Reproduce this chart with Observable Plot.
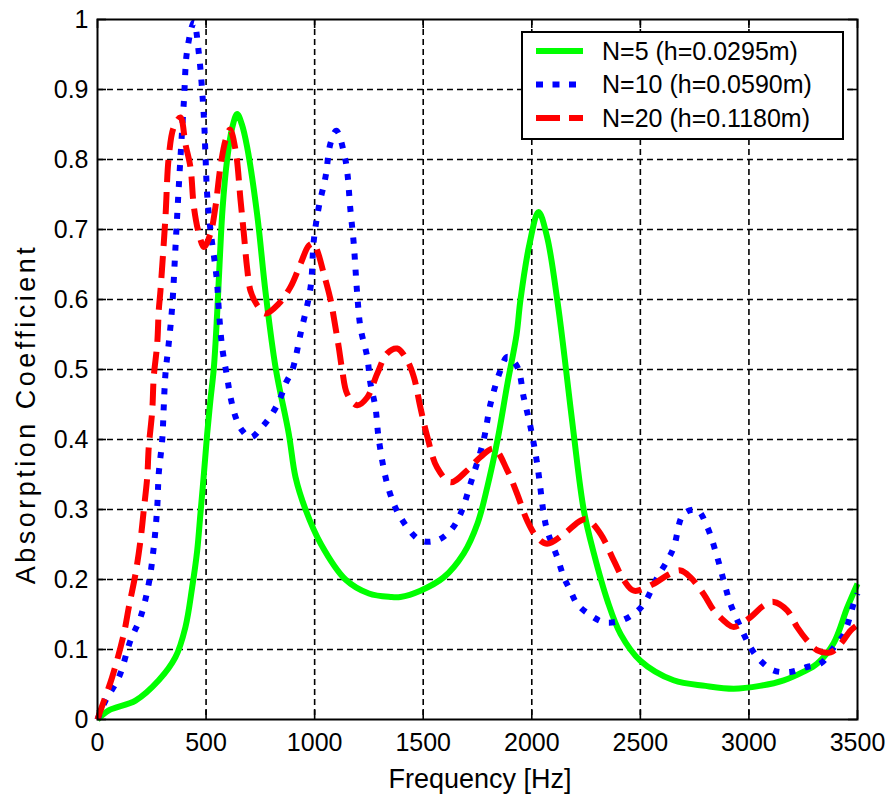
<!DOCTYPE html>
<html>
<head>
<meta charset="utf-8">
<script src="https://cdn.jsdelivr.net/npm/d3@7"></script>
<script src="https://cdn.jsdelivr.net/npm/@observablehq/plot@0.6"></script>
<style>
  html, body { margin: 0; padding: 0; background: #fff; }
  #chart { width: 885px; height: 796px; }
</style>
</head>
<body>
<div id="chart"></div>
<script>
// ---------- data ----------
const seriesNames = ["N=5 (h=0.0295m)", "N=10 (h=0.0590m)", "N=20 (h=0.1180m)"];

const freqN5 = [0, 52, 175, 282, 359, 405, 436, 459, 474, 490, 505, 520, 536, 551, 562, 576, 597, 620, 643, 665, 689, 735, 774, 820, 881, 912, 958, 1030, 1142, 1250, 1350, 1395, 1487, 1594, 1686, 1750, 1795, 1842, 1888, 1930, 1948, 1990, 2031, 2070, 2117, 2150, 2193, 2240, 2286, 2348, 2409, 2500, 2653, 2800, 2930, 3050, 3160, 3250, 3315, 3390, 3453, 3500];
const absN5  = [0, 0.013, 0.027, 0.056, 0.089, 0.132, 0.189, 0.241, 0.294, 0.351, 0.408, 0.456, 0.503, 0.58, 0.65, 0.73, 0.80, 0.845, 0.865, 0.85, 0.818, 0.722, 0.61, 0.503, 0.408, 0.346, 0.30, 0.25, 0.20, 0.18, 0.175, 0.175, 0.184, 0.203, 0.237, 0.28, 0.332, 0.399, 0.48, 0.55, 0.60, 0.68, 0.725, 0.69, 0.60, 0.52, 0.408, 0.298, 0.237, 0.17, 0.122, 0.084, 0.056, 0.048, 0.044, 0.048, 0.056, 0.068, 0.08, 0.109, 0.16, 0.194];

const freqN10 = [0, 37, 98, 152, 198, 236, 259, 275, 282, 298, 305, 313, 328, 344, 360, 375, 398, 413, 444, 467, 490, 497, 505, 520, 543, 551, 559, 574, 597, 613, 636, 666, 705, 758, 805, 843, 866, 897, 935, 981, 996, 1019, 1050, 1073, 1100, 1142, 1165, 1180, 1196, 1211, 1242, 1257, 1280, 1296, 1340, 1395, 1487, 1564, 1626, 1672, 1718, 1778, 1810, 1856, 1887, 1933, 1963, 1994, 2025, 2055, 2071, 2117, 2148, 2178, 2209, 2270, 2332, 2409, 2470, 2516, 2578, 2624, 2654, 2700, 2762, 2808, 2854, 2892, 2915, 2976, 3007, 3053, 3114, 3191, 3268, 3330, 3391, 3437, 3482, 3500];
const absN10  = [0, 0.027, 0.06, 0.113, 0.146, 0.194, 0.246, 0.303, 0.351, 0.399, 0.446, 0.494, 0.537, 0.59, 0.68, 0.765, 0.884, 0.956, 0.996, 0.951, 0.86, 0.808, 0.75, 0.70, 0.646, 0.623, 0.584, 0.532, 0.489, 0.46, 0.432, 0.413, 0.403, 0.418, 0.437, 0.46, 0.48, 0.499, 0.551, 0.617, 0.684, 0.732, 0.775, 0.823, 0.841, 0.799, 0.727, 0.68, 0.608, 0.56, 0.518, 0.48, 0.446, 0.399, 0.33, 0.289, 0.256, 0.256, 0.27, 0.294, 0.337, 0.399, 0.451, 0.499, 0.518, 0.504, 0.46, 0.418, 0.365, 0.294, 0.27, 0.232, 0.203, 0.184, 0.165, 0.149, 0.139, 0.141, 0.151, 0.165, 0.203, 0.227, 0.246, 0.294, 0.299, 0.275, 0.232, 0.189, 0.165, 0.122, 0.103, 0.084, 0.07, 0.068, 0.075, 0.08, 0.103, 0.122, 0.165, 0.18];

const freqN20 = [0, 14, 67, 121, 144, 175, 198, 213, 229, 236, 252, 259, 275, 282, 290, 313, 328, 351, 382, 405, 428, 444, 467, 490, 520, 543, 566, 589, 610, 636, 659, 674, 689, 705, 735, 774, 835, 889, 935, 973, 995, 1012, 1042, 1073, 1096, 1111, 1127, 1150, 1196, 1242, 1288, 1334, 1380, 1426, 1457, 1487, 1518, 1564, 1626, 1703, 1764, 1825, 1887, 1933, 1979, 2025, 2071, 2148, 2224, 2255, 2317, 2378, 2424, 2470, 2562, 2624, 2685, 2731, 2792, 2838, 2900, 2930, 3007, 3069, 3114, 3176, 3222, 3268, 3314, 3376, 3422, 3468, 3500];
const absN20  = [0, 0.013, 0.06, 0.122, 0.16, 0.208, 0.256, 0.299, 0.346, 0.389, 0.441, 0.489, 0.537, 0.584, 0.613, 0.718, 0.803, 0.846, 0.86, 0.822, 0.789, 0.732, 0.694, 0.675, 0.694, 0.732, 0.789, 0.827, 0.843, 0.813, 0.741, 0.694, 0.645, 0.612, 0.592, 0.58, 0.594, 0.618, 0.651, 0.677, 0.68, 0.67, 0.637, 0.6, 0.56, 0.532, 0.499, 0.465, 0.449, 0.46, 0.494, 0.523, 0.53, 0.513, 0.489, 0.446, 0.405, 0.36, 0.339, 0.356, 0.375, 0.387, 0.356, 0.322, 0.284, 0.26, 0.251, 0.265, 0.284, 0.286, 0.265, 0.227, 0.199, 0.184, 0.194, 0.206, 0.213, 0.203, 0.179, 0.156, 0.137, 0.132, 0.146, 0.163, 0.168, 0.156, 0.132, 0.113, 0.099, 0.096, 0.108, 0.127, 0.135];

const xTicks = [0, 500, 1000, 1500, 2000, 2500, 3000, 3500];
const xTickLabels = ["0", "500", "1000", "1500", "2000", "2500", "3000", "3500"];
const yTicks = [0, 0.1, 0.2, 0.3, 0.4, 0.5, 0.6, 0.7, 0.8, 0.9, 1];
const yTickLabels = ["0", "0.1", "0.2", "0.3", "0.4", "0.5", "0.6", "0.7", "0.8", "0.9", "1"];
const xTitle = "Frequency [Hz]";
const yTitle = "Absorption Coefficient";

// ---------- styles ----------
const W = 885, H = 796;
const M = {left: 97, right: 28, top: 19, bottom: 77};
const PW = W - M.left - M.right, PH = H - M.top - M.bottom;
const FONT = "'Liberation Sans', Arial, sans-serif";
const styles = [
  {stroke: "#00ff00", dash: null},
  {stroke: "#0000ff", dash: "6,10"},
  {stroke: "#ff0000", dash: "22,10"}
];

const toRows = (fs, as) => fs.map((f, i) => ({f, a: as[i]}));
const rows = [toRows(freqN5, absN5), toRows(freqN10, absN10), toRows(freqN20, absN20)];

const TL = 9; // inward tick length
const chart = Plot.plot({
  width: W, height: H,
  marginLeft: M.left, marginRight: M.right, marginTop: M.top, marginBottom: M.bottom,
  style: {fontFamily: FONT, fontSize: "25px", background: "#fff", color: "#000"},
  x: {domain: [0, 3500], ticks: xTicks, tickFormat: (d, i) => xTickLabels[xTicks.indexOf(d)], tickSize: 0, tickPadding: 14, label: null},
  y: {domain: [0, 1], ticks: yTicks, tickFormat: (d) => yTickLabels[yTicks.findIndex(t => Math.abs(t - d) < 1e-9)], tickSize: 0, tickPadding: 9, label: null},
  marks: [
    Plot.ruleX(xTicks.slice(1, -1), {x: d => d, stroke: "#000", strokeWidth: 1.6, strokeDasharray: "6,4"}),
    Plot.ruleY(yTicks.slice(1, -1), {y: d => d, stroke: "#000", strokeWidth: 1.6, strokeDasharray: "6,4"}),
    Plot.tickX(xTicks, {x: d => d, stroke: "#000", strokeWidth: 1.6, insetTop: PH - TL}),
    Plot.tickX(xTicks, {x: d => d, stroke: "#000", strokeWidth: 1.6, insetBottom: PH - TL}),
    Plot.tickY(yTicks, {y: d => d, stroke: "#000", strokeWidth: 1.6, insetRight: PW - TL}),
    Plot.tickY(yTicks, {y: d => d, stroke: "#000", strokeWidth: 1.6, insetLeft: PW - TL}),
    ...rows.map((r, i) => Plot.line(r, {x: "f", y: "a", stroke: styles[i].stroke, strokeWidth: 6, strokeDasharray: styles[i].dash, strokeLinecap: "butt", strokeLinejoin: "round", curve: "catmull-rom"})),
    Plot.frame({stroke: "#000", strokeWidth: 2})
  ]
});
document.getElementById("chart").appendChild(chart);

// ---------- titles & legend ----------
const svg = d3.select(chart);
svg.append("text")
  .attr("x", 480).attr("y", 788)
  .attr("text-anchor", "middle")
  .attr("font-family", FONT).attr("font-size", 27).attr("fill", "#000")
  .text(xTitle);
svg.append("text")
  .attr("transform", "translate(35,414) rotate(-90)")
  .attr("text-anchor", "middle")
  .attr("font-family", FONT).attr("font-size", 27).attr("letter-spacing", 3.5).attr("fill", "#000")
  .text(yTitle);

const lg = svg.append("g");
lg.append("rect").attr("x", 522).attr("y", 32).attr("width", 321).attr("height", 107)
  .attr("fill", "#fff").attr("stroke", "#000").attr("stroke-width", 2);
seriesNames.forEach((name, i) => {
  const y = 51 + i * 33.5;
  lg.append("line").attr("x1", 536).attr("x2", 583).attr("y1", y).attr("y2", y)
    .attr("stroke", styles[i].stroke).attr("stroke-width", 6)
    .attr("stroke-dasharray", styles[i].dash === null ? null : (i === 1 ? "7,9.5" : "24,9"));
  lg.append("text").attr("x", 602).attr("y", y).attr("dy", "0.35em")
    .attr("text-anchor", "start")
    .attr("font-family", FONT).attr("font-size", 25).attr("fill", "#000")
    .text(name);
});
</script>
</body>
</html>
